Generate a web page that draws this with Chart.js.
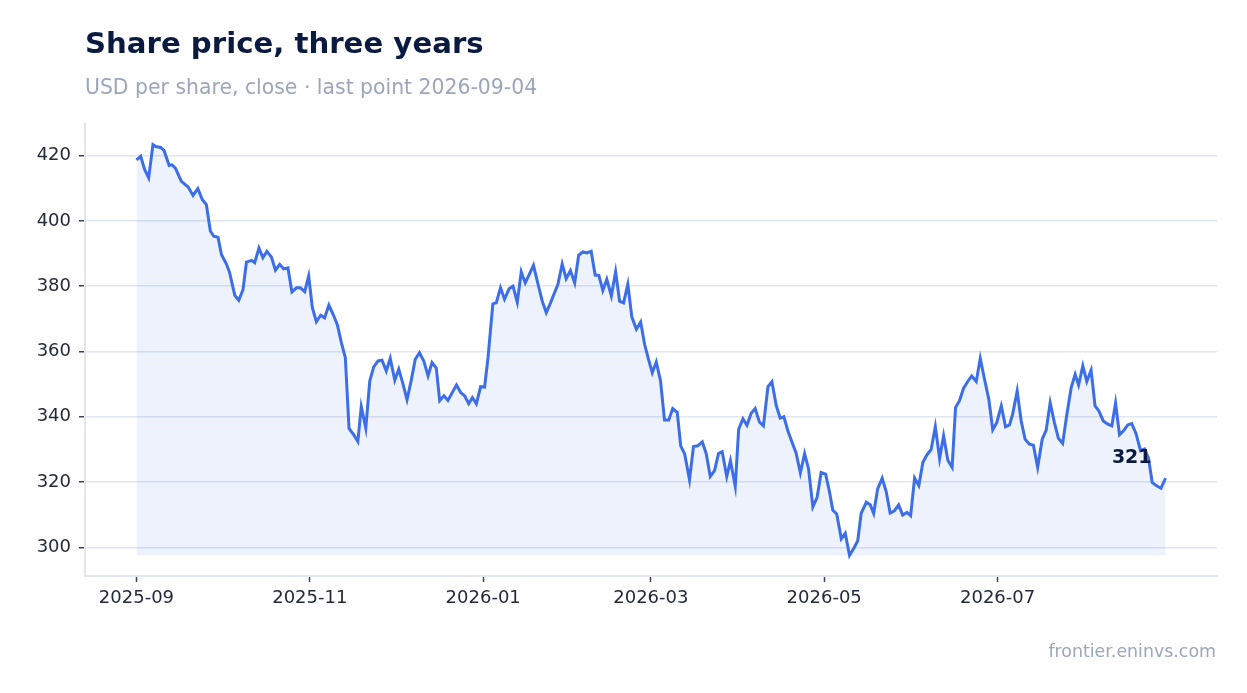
<!DOCTYPE html>
<html>
<head>
<meta charset="utf-8">
<title>Share price, three years</title>
<script src="https://cdn.jsdelivr.net/npm/chart.js@4/dist/chart.umd.min.js"></script>
<style>
  html, body { margin: 0; padding: 0; background: #ffffff; }
  body { width: 1247px; height: 693px; position: relative; overflow: hidden; font-family: "DejaVu Sans", sans-serif; }
  #priceChart { position: absolute; left: 0; top: 0; }
  .txt { position: absolute; white-space: nowrap; }
  #title { left: 85px; top: 28.5px; font: bold 29.2px/29px "DejaVu Sans"; color: #0b1a40; }
  #subtitle { left: 85px; top: 77px; font: 20.4px/20px "DejaVu Sans"; color: #9aa6ba; }
  #footer { right: 31px; top: 642.5px; font: 17.4px/17px "DejaVu Sans"; color: #9aa6ba; }
</style>
</head>
<body>
<canvas id="priceChart" width="1247" height="693"></canvas>
<div class="txt" id="title">Share price, three years</div>
<div class="txt" id="subtitle">USD per share, close · last point 2026-09-04</div>
<div class="txt" id="footer">frontier.eninvs.com</div>
<script>
// days since the first close (2025-09-01)
const startDate = '2025-09-01';

const dayOffsets = [
  0, 1.5, 2.9, 4.3, 5.8, 6.8, 8.5, 9.7, 11.5, 12.5, 13.7, 15.8, 18.2, 19.9, 21.6, 23.2, 24.6, 26.0, 27.2, 28.7,
  29.9, 31.7, 32.8, 34.6, 36.0, 37.5, 38.7, 40.5, 41.6, 43.1, 44.5, 45.9, 47.5, 48.9, 50.4, 51.8, 53.3, 54.7, 56.3, 57.7,
  59.2, 60.6, 61.9, 63.3, 64.8, 66.2, 67.7, 69.2, 70.7, 72.1, 73.5, 74.8, 76.4, 77.9, 79.1, 80.7, 82.1, 83.5, 85.0, 86.4,
  87.9, 89.3, 90.9, 92.3, 93.8, 95.2, 96.7, 98.1, 99.6, 101.1, 102.6, 104.0, 105.5, 106.7, 108.2, 109.6, 111.1, 112.6, 114.1, 115.5,
  116.9, 118.2, 119.6, 121.1, 122.5, 123.7, 125.4, 126.6, 128.1, 129.5, 131.1, 132.5, 134.0, 135.4, 136.8, 138.3, 139.7, 141.3, 142.8, 144.2,
  145.7, 147.1, 148.3, 149.8, 151.2, 152.7, 154.2, 155.6, 157.1, 158.5, 160.0, 161.4, 162.7, 164.1, 165.5, 167.1, 168.6, 170.0, 171.4, 172.9,
  174.3, 175.9, 177.4, 178.8, 180.2, 181.5, 182.9, 184.4, 185.8, 187.3, 188.7, 190.3, 191.5, 192.9, 194.6, 196.0, 197.5, 199.1, 200.5, 201.9,
  203.4, 204.8, 206.1, 207.7, 209.0, 210.7, 211.9, 213.4, 214.8, 216.3, 217.7, 219.2, 220.6, 222.2, 223.6, 225.1, 226.5, 227.8, 229.2, 230.7,
  232.1, 233.6, 235.1, 236.5, 238.0, 239.5, 240.9, 242.5, 243.9, 245.0, 246.4, 248.0, 249.4, 250.9, 252.4, 253.8, 255.0, 256.8, 258.2, 259.4,
  260.8, 262.4, 263.8, 265.2, 266.7, 268.2, 269.6, 271.1, 272.4, 273.8, 275.3, 276.7, 278.1, 279.6, 281.1, 282.6, 284.0, 285.5, 287.0, 288.2,
  289.6, 291.0, 292.5, 293.9, 295.5, 296.9, 298.4, 299.9, 301.3, 302.7, 304.3, 305.8, 307.2, 308.3, 309.9, 311.3, 312.7, 314.2, 315.6, 317.1,
  318.7, 320.1, 321.5, 323.0, 324.4, 325.9, 327.3, 328.9, 330.3, 331.5, 333.0, 334.4, 335.9, 337.3, 338.6, 340.2, 341.8, 343.2, 344.5, 345.9,
  347.3, 348.8, 350.2, 351.7, 353.3, 354.7, 356.1, 357.4, 358.8, 360.5, 362.1
];

const prices = [
  418.7, 419.8, 415.7, 413.2, 423.4, 422.8, 422.5, 421.6, 417.0, 417.2, 416.2, 412.1, 410.4, 407.8, 409.9, 406.5, 405.0, 396.9, 395.3, 395.0,
  389.7, 386.7, 384.1, 377.2, 375.7, 379.0, 387.4, 387.9, 387.2, 391.7, 388.7, 390.7, 388.9, 384.9, 386.7, 385.3, 385.6, 378.2, 379.5, 379.5,
  378.3, 383.1, 373.4, 369.1, 371.1, 370.3, 374.2, 371.4, 368.1, 362.7, 358.1, 336.4, 334.5, 332.4, 343.1, 336.5, 351.0, 355.3, 357.1, 357.3,
  354.0, 357.9, 351.2, 354.6, 350.0, 345.2, 351.2, 357.6, 359.6, 357.1, 352.5, 356.6, 354.9, 344.9, 346.4, 345.0, 347.4, 349.7, 347.4, 346.4,
  344.0, 345.9, 344.0, 349.2, 349.1, 358.1, 374.6, 374.9, 379.5, 376.0, 379.2, 380.0, 375.1, 384.4, 381.0, 383.8, 386.4, 380.6, 375.4, 371.9,
  374.9, 378.0, 380.6, 386.8, 382.3, 384.8, 381.0, 389.5, 390.5, 390.2, 390.7, 383.4, 383.3, 378.7, 382.1, 377.0, 384.4, 375.4, 374.9, 380.6,
  370.6, 366.8, 369.0, 362.2, 357.5, 353.5, 356.8, 351.0, 339.0, 339.0, 342.5, 341.3, 331.1, 328.6, 320.7, 330.9, 331.1, 332.3, 328.6, 321.7,
  323.5, 328.7, 329.3, 321.7, 326.5, 318.7, 336.2, 339.4, 337.4, 341.1, 342.5, 338.4, 337.2, 349.2, 350.7, 343.5, 339.6, 340.0, 335.7, 332.1,
  328.9, 322.8, 328.7, 324.0, 312.4, 315.3, 322.9, 322.4, 316.8, 311.4, 310.2, 302.6, 304.3, 297.5, 299.7, 302.0, 310.4, 313.8, 313.0, 310.4,
  317.9, 321.2, 317.1, 310.5, 311.2, 313.0, 309.9, 310.7, 309.7, 321.2, 318.9, 326.0, 328.3, 329.9, 337.0, 327.2, 334.2, 326.7, 324.5, 342.8,
  344.9, 348.7, 350.8, 352.5, 350.8, 357.9, 351.5, 345.4, 336.0, 338.2, 343.3, 336.9, 337.5, 340.8, 347.9, 338.7, 333.1, 331.6, 331.3, 324.5,
  333.1, 335.9, 344.3, 338.2, 333.4, 331.8, 340.3, 348.9, 353.0, 349.7, 355.6, 350.8, 354.3, 343.3, 341.8, 338.7, 337.7, 337.2, 344.2, 334.5,
  335.7, 337.5, 337.9, 334.9, 329.6, 330.1, 327.3, 319.9, 318.9, 318.1, 321.2
];

const xTickMonths = ['2025-09', '2025-11', '2026-01', '2026-03', '2026-05', '2026-07'];
const yTicks = [300, 320, 340, 360, 380, 400, 420];

const DAY_MS = 86400000;
function daysFromStart(iso) {
  return (Date.parse(iso) - Date.parse(startDate)) / DAY_MS;
}
const xTickDays = xTickMonths.map(m => daysFromStart(m + '-01'));

const points = dayOffsets.map((d, i) => ({ x: d, y: prices[i] }));

// 5% margins like the original plot
const xLo = Math.min(...dayOffsets), xHi = Math.max(...dayOffsets);
const yLo = Math.min(...prices), yHi = Math.max(...prices);
const xPad = (xHi - xLo) * 0.05, yPad = (yHi - yLo) * 0.05;

const lineColor = '#3b6ee8';
const gridColor = '#e2e6ef';
const tickText = '#222a3a';

const lastLabel = {
  id: 'lastLabel',
  afterDatasetsDraw(chart) {
    const meta = chart.getDatasetMeta(0);
    const pt = meta.data[meta.data.length - 1];
    const ctx = chart.ctx;
    ctx.save();
    ctx.font = 'bold 19px "DejaVu Sans"';
    ctx.fillStyle = '#0b1a40';
    ctx.textAlign = 'right';
    ctx.textBaseline = 'middle';
    ctx.fillText(String(Math.round(prices[prices.length - 1])), pt.x - 14, pt.y - 20);
    ctx.restore();
  }
};

const ctx = document.getElementById('priceChart').getContext('2d');
const priceChart = new Chart(ctx, {
  type: 'line',
  data: {
    datasets: [{
      label: 'Close',
      data: points,
      borderColor: lineColor,
      borderWidth: 3,
      backgroundColor: 'rgba(59, 110, 232, 0.09)',
      fill: { value: yLo },
      pointRadius: 0,
      tension: 0
    }]
  },
  options: {
    responsive: false,
    animation: false,
    layout: { padding: { top: 124, right: 30, bottom: 0, left: 0 } },
    plugins: {
      legend: { display: false },
      tooltip: { enabled: false }
    },
    scales: {
      x: {
        type: 'linear',
        min: xLo - xPad,
        max: xHi + xPad,
        afterBuildTicks: axis => { axis.ticks = xTickDays.map(v => ({ value: v })); },
        afterFit: axis => { axis.height = 117; },
        ticks: {
          autoSkip: false,
          maxRotation: 0,
          padding: 6,
          color: tickText,
          font: { family: 'DejaVu Sans', size: 18 },
          callback: v => xTickMonths[xTickDays.indexOf(v)]
        },
        grid: { drawOnChartArea: false, tickLength: 6, tickColor: '#3a4152', tickWidth: 1.5 },
        border: { color: gridColor, width: 2 }
      },
      y: {
        min: yLo - yPad,
        max: yHi + yPad,
        afterBuildTicks: axis => { axis.ticks = yTicks.map(v => ({ value: v })); },
        afterFit: axis => { axis.width = 85; },
        ticks: {
          padding: 8,
          color: tickText,
          font: { family: 'DejaVu Sans', size: 18 }
        },
        grid: { color: gridColor, lineWidth: 1.5, tickLength: 6, tickColor: '#3a4152', tickWidth: 1.5 },
        border: { color: gridColor, width: 2 }
      }
    }
  },
  plugins: [lastLabel]
});
</script>
</body>
</html>
